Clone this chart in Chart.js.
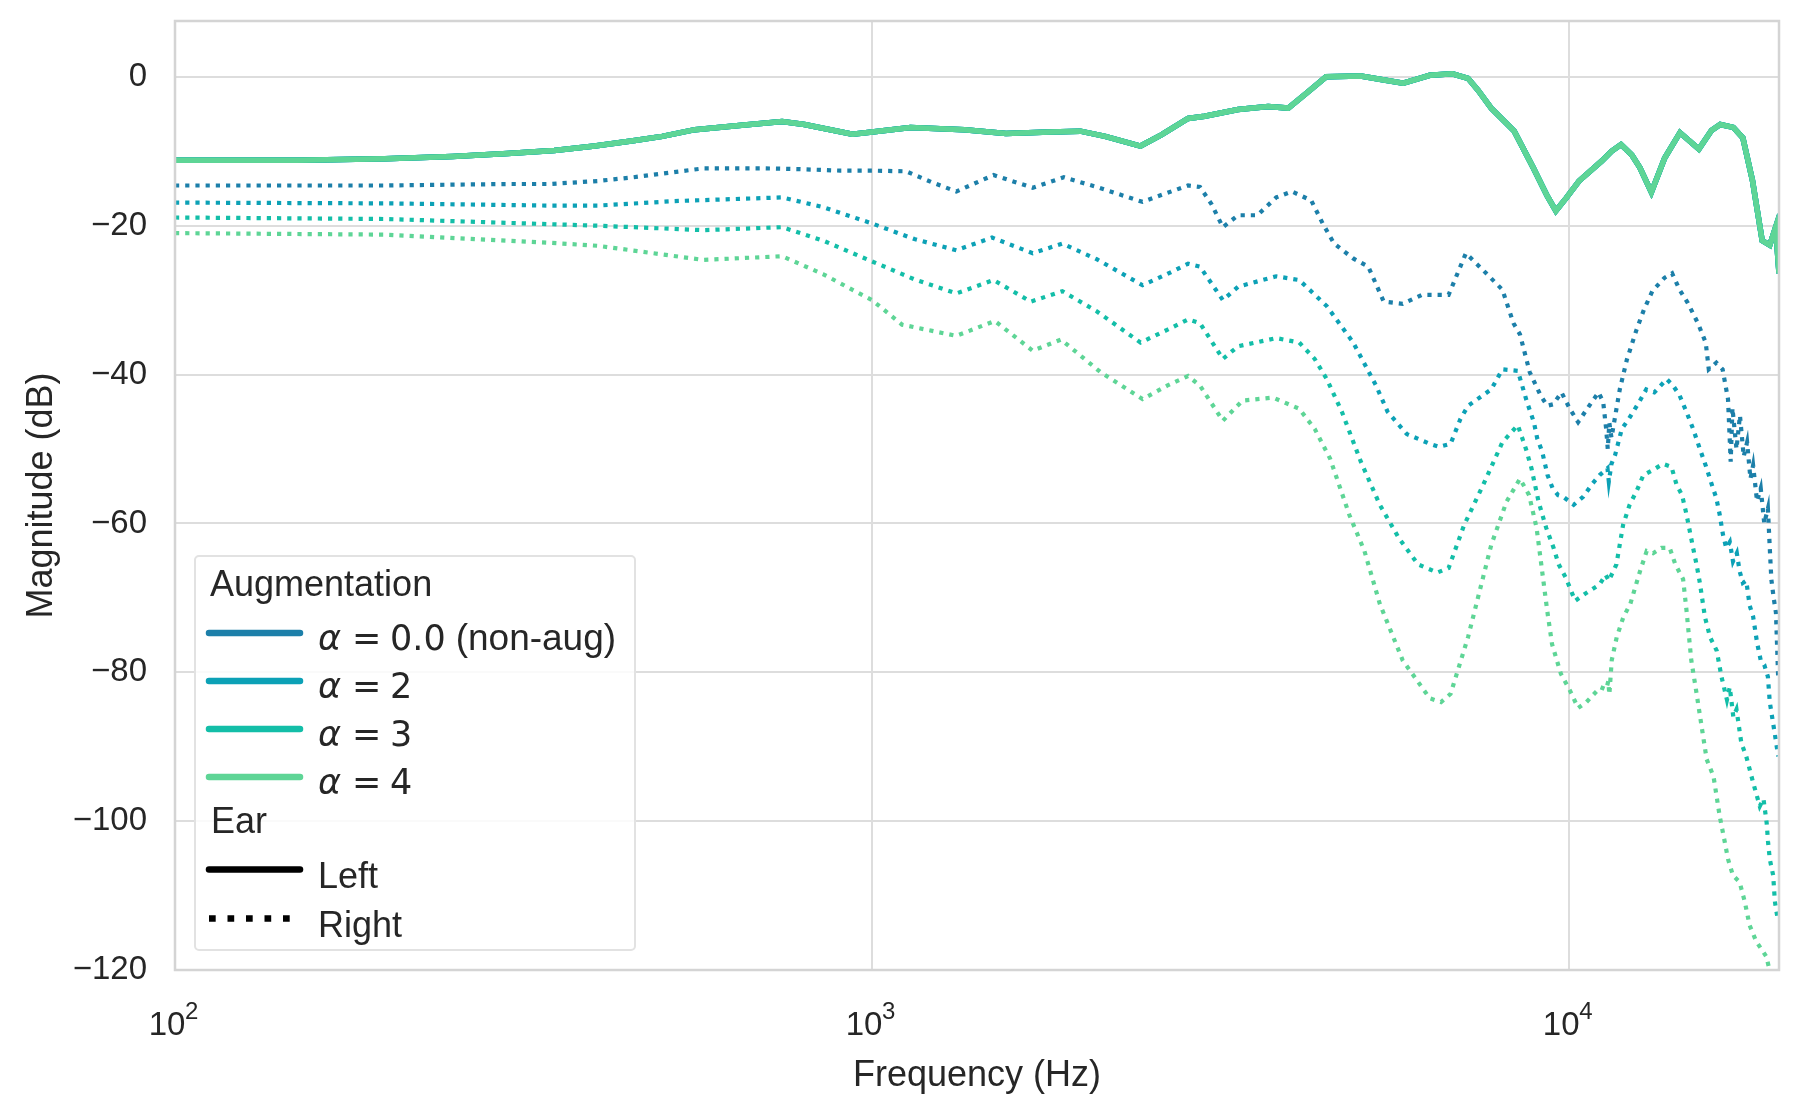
<!DOCTYPE html>
<html>
<head>
<meta charset="utf-8">
<script src="https://cdn.jsdelivr.net/npm/chart.js@4.4.1/dist/chart.umd.min.js"></script>
<style>
  html, body { margin: 0; padding: 0; background: #fff; }
  #myChart { display: block; }
</style>
</head>
<body>
<canvas id="myChart" width="1800" height="1115"></canvas>
<script>
// tick labels
const xTickValues = [100, 1000, 10000];
const xTickBase = ['10', '10', '10'];
const xTickExponents = ['2', '3', '4'];
const yTickValues = [-120, -100, -80, -60, -40, -20, 0];

// legend entries
const augLabels = ['0.0', '2', '3', '4'];
const earLabels = ['Left', 'Right'];

// left ear (same curve for every alpha)
const freqLeft = [100,150,200,250,300,350,400,454,500,557,650,743,800,937,1000,1135,1357,1556,1800,1990,2160,2427,2600,2840,3000,3350,3700,3954,4200,4480,5025,5400,5780,6100,6310,6800,7160,7400,7730,8340,8880,9300,9570,9900,10330,11140,11500,11870,12300,12630,13120,13710,14420,15350,16000,16470,17200,17750,18320,18920,19400,19780,20000];
const magLeft = [-11.2,-11.2,-11.0,-10.7,-10.3,-9.9,-9.3,-8.6,-8.0,-7.1,-6.5,-6.0,-6.4,-7.7,-7.4,-6.8,-7.1,-7.6,-7.4,-7.3,-8.0,-9.3,-7.8,-5.6,-5.3,-4.4,-4.0,-4.2,-2.2,0.0,0.1,-0.4,-0.85,-0.2,0.2,0.4,-0.2,-1.8,-4.2,-7.3,-12.2,-16.0,-18.0,-16.3,-14.0,-11.3,-10.0,-9.1,-10.5,-12.2,-15.5,-10.9,-7.5,-9.7,-7.2,-6.4,-6.8,-8.2,-13.9,-22.0,-22.6,-20.2,-26.4];

// right ear, alpha = 0.0
const freqR0 = [100,200,300,345,404,454,520,573,700,785,900,1000,1119,1220,1321,1494,1700,1884,2100,2443,2650,2840,2954,3068,3186,3350,3570,3800,4000,4265,4430,4600,4900,5150,5420,5770,6150,6715,7110,7530,8020,8320,8500,8780,9100,9300,9486,9750,10023,10300,10720,11020,11190,11300,11360,11420,11500,11820,12100,12490,12800,13160,13700,14050,14400,14800,15300,15700,15860,16260,16600,16900,17050,17150,17380,17580,17800,18000,18200,18360,18600,18830,19050,19280,19400,19500,19650,19800,19950];
const magR0 = [-14.6,-14.6,-14.4,-14.4,-14.0,-13.5,-12.8,-12.3,-12.3,-12.4,-12.6,-12.6,-12.7,-14.2,-15.4,-13.2,-14.9,-13.5,-14.8,-16.8,-15.6,-14.6,-14.8,-17.1,-20.2,-18.6,-18.6,-16.2,-15.4,-16.6,-19.7,-22.4,-24.4,-25.5,-30.2,-30.5,-29.3,-29.3,-23.7,-26.0,-28.6,-33.1,-34.6,-39.7,-42.8,-44.2,-44.0,-42.4,-44.6,-46.4,-44.0,-42.4,-43.7,-47.3,-50.0,-46.5,-48.5,-42.0,-38.0,-34.0,-31.3,-28.8,-27.0,-26.4,-28.6,-30.4,-33.1,-35.7,-39.3,-38.4,-39.3,-43.3,-51.7,-44.5,-50.0,-45.5,-51.0,-49.1,-54.0,-52.2,-57.0,-55.3,-60.0,-58.0,-63.3,-67.5,-70.0,-72.0,-81.0];

// right ear, alpha = 2
const freqR2 = [100,200,345,404,520,743,850,1000,1150,1321,1486,1700,1875,2100,2443,2650,2840,2954,3186,3350,3800,4100,4490,4900,5285,5490,5850,6310,6510,6760,6980,7160,7730,8020,8440,8700,8900,9000,9150,9310,9470,9640,9800,10150,10480,10770,11060,11350,11400,11500,11640,11900,12170,12600,12900,13250,13800,14100,14400,14730,15060,15400,15750,16020,16260,16440,16620,16800,17000,17180,17400,17560,17750,17950,18150,18360,18600,18830,19050,19280,19400,19550,19750,19950];
const magR2 = [-16.9,-17.0,-17.3,-17.3,-16.7,-16.2,-17.5,-19.7,-21.8,-23.3,-21.6,-23.7,-22.4,-24.5,-28.0,-26.5,-25.1,-25.5,-30.0,-28.2,-26.8,-27.3,-30.8,-35.7,-41.5,-45.0,-48.0,-49.3,-49.7,-49.3,-46.0,-44.2,-42.0,-39.3,-39.5,-43.7,-46.4,-48.6,-50.4,-53.5,-55.3,-56.2,-56.4,-57.5,-56.4,-54.8,-53.5,-52.6,-54.4,-52.0,-50.8,-47.3,-46.0,-43.7,-42.0,-42.4,-40.6,-41.5,-42.8,-45.0,-47.3,-50.0,-52.6,-54.8,-56.6,-58.8,-61.5,-63.3,-62.5,-65.1,-64.0,-66.4,-68.0,-67.7,-71.0,-72.5,-76.0,-78.4,-79.0,-80.6,-84.0,-86.0,-88.6,-91.3];

// right ear, alpha = 3
const freqR3 = [100,200,345,404,573,743,850,1000,1150,1321,1494,1689,1875,2100,2427,2650,2840,2954,3186,3350,3800,4100,4315,4490,4720,5025,5350,5700,6070,6470,6715,7070,7530,8020,8440,8670,8830,9040,9270,9500,9660,9890,10200,10600,11060,11280,11400,11690,11950,12210,12490,12780,13200,13630,14020,14260,14520,14735,14900,15060,15230,15400,15660,15930,16280,16540,16840,17000,17200,17380,17660,17950,18360,18770,19000,19200,19290,19400,19620,19730,19900];
const magR3 = [-18.9,-19.1,-19.8,-20.0,-20.6,-20.2,-22.0,-24.8,-27.2,-29.1,-27.3,-30.2,-28.8,-31.5,-35.7,-34.0,-32.6,-33.1,-37.9,-36.2,-35.1,-35.7,-37.9,-40.6,-45.0,-51.7,-57.5,-62.0,-65.5,-66.6,-66.0,-60.2,-54.8,-49.1,-46.8,-50.0,-52.6,-57.1,-60.6,-63.3,-65.5,-67.3,-70.4,-69.3,-68.2,-66.9,-67.7,-65.5,-60.2,-57.5,-55.7,-53.5,-52.8,-52.0,-52.4,-54.8,-56.2,-58.8,-61.1,-63.3,-65.5,-68.0,-72.6,-75.3,-77.1,-80.6,-83.7,-82.0,-86.0,-85.0,-89.5,-91.3,-94.8,-98.0,-97.0,-100.2,-102.8,-105.1,-107.3,-110.8,-113.0];

// right ear, alpha = 4
const freqR4 = [100,200,345,404,573,743,850,1000,1104,1321,1500,1700,1867,2128,2443,2650,2840,2954,3186,3400,3760,4100,4315,4540,4840,5085,5350,5770,6310,6550,6760,7160,7730,8130,8500,8760,8980,9300,9450,9730,10020,10300,10590,11090,11300,11380,11420,11510,11700,11960,12240,12630,12920,13200,13560,13940,14200,14570,14735,14970,15230,15490,15750,16110,16440,16720,16900,17180,17560,17860,18150,18560,18970,19180,19500,20000];
const magR4 = [-21.0,-21.2,-22.3,-22.7,-24.6,-24.1,-26.5,-30.0,-33.3,-34.8,-32.8,-36.8,-35.3,-39.7,-43.3,-41.5,-40.2,-41.5,-46.2,-43.5,-43.1,-44.6,-47.3,-51.3,-58.9,-63.7,-70.8,-78.4,-83.5,-84.0,-82.9,-75.3,-62.9,-57.1,-54.0,-56.2,-60.6,-71.7,-76.2,-80.2,-82.4,-84.8,-84.0,-82.0,-82.3,-81.2,-83.0,-78.4,-75.3,-72.6,-70.8,-66.5,-63.7,-64.0,-63.3,-63.3,-65.5,-67.5,-71.7,-78.4,-82.8,-87.3,-91.7,-94.0,-99.3,-102.8,-105.1,-107.3,-108.2,-110.8,-114.0,-116.2,-117.5,-118.2,-121.0,-126.0];

const colors = ['#1c7fa9', '#0ca1b6', '#13bea8', '#5ed596'];
const textColor = '#262626';
const sansFont = '"Liberation Sans", Arial, sans-serif';

const rightFreqs = [freqR0, freqR2, freqR3, freqR4];
const rightMags = [magR0, magR2, magR3, magR4];
const toPoints = (fs, ms) => fs.map((f, i) => ({ x: f, y: ms[i] }));

let datasets = [];
augLabels.forEach((a, k) => {
  datasets.push({
    label: 'Left, alpha=' + a,
    data: toPoints(freqLeft, magLeft),
    borderColor: colors[k],
    borderWidth: 5.5,
    order: 3 - k
  });
  datasets.push({
    label: 'Right, alpha=' + a,
    data: toPoints(rightFreqs[k], rightMags[k]),
    borderColor: colors[k],
    borderWidth: 4.2,
    borderDash: [4.2, 6],
    borderCapStyle: 'butt',
    order: 13 - k
  });
});

// light grey box round the plotting area, like the seaborn whitegrid spines
const framePlugin = {
  id: 'axesFrame',
  afterDatasetsDraw(chart) {
    const { ctx, chartArea: a } = chart;
    ctx.save();
    ctx.strokeStyle = '#d4d4d4';
    ctx.lineWidth = 2.5;
    ctx.strokeRect(a.left, a.top, a.right - a.left, a.bottom - a.top);
    ctx.restore();
  }
};

// exponents of the 10^n tick labels, placed next to each library tick
const exponentPlugin = {
  id: 'tickExponents',
  afterDraw(chart) {
    const s = chart.scales.x;
    const ctx = chart.ctx;
    const pad = s.options.ticks.padding;
    ctx.save();
    ctx.fillStyle = textColor;
    ctx.font = '24px ' + sansFont;
    ctx.textBaseline = 'alphabetic';
    ctx.textAlign = 'left';
    s.ticks.forEach((t) => {
      const i = xTickValues.indexOf(t.value);
      if (i < 0) return;
      ctx.fillText(xTickExponents[i], s.getPixelForValue(t.value) + 10, s.top + pad + 13);
    });
    ctx.restore();
  }
};

// two part legend: hue (Augmentation) then style (Ear)
const legendPlugin = {
  id: 'hueStyleLegend',
  afterDraw(chart) {
    const ctx = chart.ctx;
    ctx.save();
    ctx.fillStyle = 'rgba(255,255,255,0.85)';
    ctx.strokeStyle = '#e2e2e2';
    ctx.lineWidth = 2;
    ctx.beginPath();
    ctx.roundRect(195, 556, 440, 394, 4);
    ctx.fill();
    ctx.stroke();

    ctx.fillStyle = textColor;
    ctx.textBaseline = 'alphabetic';
    ctx.font = '36px ' + sansFont;
    ctx.fillText('Augmentation', 210, 596);

    ctx.lineCap = 'round';
    augLabels.forEach((a, i) => {
      const y = 633 + 48 * i;
      ctx.strokeStyle = colors[i];
      ctx.lineWidth = 6.5;
      ctx.beginPath();
      ctx.moveTo(209, y);
      ctx.lineTo(300, y);
      ctx.stroke();

      const base = y + 17;
      ctx.fillStyle = textColor;
      ctx.font = 'italic 35px "DejaVu Sans", sans-serif';
      ctx.fillText('α', 318, base);
      ctx.font = '35px "DejaVu Sans", sans-serif';
      ctx.fillText('=', 352, base);
      ctx.fillText(a, 390, base);
      if (i === 0) {
        const w = ctx.measureText(a).width;
        ctx.font = '37px ' + sansFont;
        ctx.fillText('(non-aug)', 390 + w + 10, base);
      }
    });

    ctx.fillStyle = textColor;
    ctx.font = '36px ' + sansFont;
    ctx.fillText('Ear', 211, 833);

    earLabels.forEach((e, i) => {
      const y = 869.5 + 49 * i;
      ctx.strokeStyle = '#000';
      ctx.lineWidth = 6.5;
      if (i === 0) {
        ctx.lineCap = 'round';
        ctx.setLineDash([]);
      } else {
        ctx.lineCap = 'butt';
        ctx.setLineDash([6.7, 11.8]);
      }
      ctx.beginPath();
      ctx.moveTo(209, y);
      ctx.lineTo(300, y);
      ctx.stroke();
      ctx.setLineDash([]);
      ctx.fillStyle = textColor;
      ctx.fillText(e, 318, y + 18.5);
    });
    ctx.restore();
  }
};

Chart.defaults.font.family = sansFont;
Chart.defaults.color = textColor;

const ctx = document.getElementById('myChart').getContext('2d');
const myChart = new Chart(ctx, {
  type: 'line',
  data: { datasets: datasets },
  options: {
    responsive: false,
    devicePixelRatio: 1,
    animation: false,
    elements: {
      point: { radius: 0 },
      line: { tension: 0, fill: false }
    },
    layout: { padding: { left: 0, top: 21, right: 21, bottom: 0 } },
    plugins: {
      legend: { display: false },
      tooltip: { enabled: false }
    },
    scales: {
      x: {
        type: 'logarithmic',
        min: 100,
        max: 20000,
        afterBuildTicks: (s) => { s.ticks = xTickValues.map(v => ({ value: v })); },
        afterFit: (s) => {
          s.height = 145;
          s.paddingLeft = 0;
          s.paddingRight = 0;
        },
        grid: { color: '#dddddd', lineWidth: 2, drawTicks: false },
        border: { display: false },
        ticks: {
          autoSkip: false,
          maxRotation: 0,
          padding: 36,
          labelOffset: -8,
          font: { size: 33 },
          color: textColor,
          callback: (v) => xTickBase[xTickValues.indexOf(v)]
        },
        title: {
          display: true,
          text: 'Frequency (Hz)',
          font: { size: 36 },
          color: textColor,
          padding: { top: 0, bottom: 17 }
        }
      },
      y: {
        type: 'linear',
        min: -120,
        max: 7.5,
        afterBuildTicks: (s) => { s.ticks = yTickValues.map(v => ({ value: v })); },
        afterFit: (s) => {
          s.width = 175;
          s.paddingTop = 0;
          s.paddingBottom = 0;
        },
        grid: { color: '#dddddd', lineWidth: 2, drawTicks: false },
        border: { display: false },
        ticks: {
          padding: 28,
          font: { size: 33 },
          color: textColor,
          callback: (v) => (v < 0 ? '\u2212' + Math.abs(v) : String(v))
        },
        title: {
          display: true,
          text: 'Magnitude (dB)',
          font: { size: 36 },
          color: textColor,
          padding: { top: 20, bottom: 0 }
        }
      }
    }
  },
  plugins: [framePlugin, exponentPlugin, legendPlugin]
});
</script>
</body>
</html>
